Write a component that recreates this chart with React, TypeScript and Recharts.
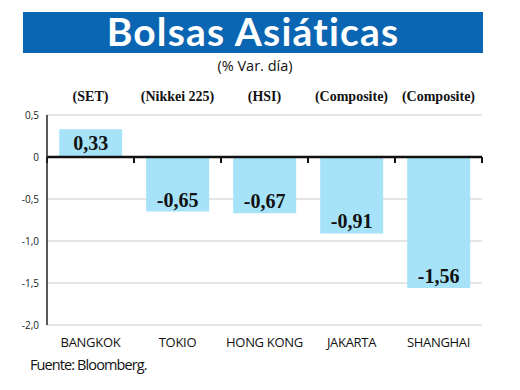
import React from "react";
import {
  BarChart,
  Bar,
  XAxis,
  YAxis,
  CartesianGrid,
  ReferenceLine,
  LabelList,
} from "recharts";

const ciudades = ["BANGKOK", "TOKIO", "HONG KONG", "JAKARTA", "SHANGHAI"];
const indices = ["(SET)", "(Nikkei 225)", "(HSI)", "(Composite)", "(Composite)"];
const variacion = [0.33, -0.65, -0.67, -0.91, -1.56];
const yTicks = [-2, -1.5, -1, -0.5, 0, 0.5];

const data = ciudades.map((c, i) => ({
  ciudad: c,
  indice: indices[i],
  valor: variacion[i],
}));

const BAR_COLOR = "#a6e3f8";

const fmtTick = (v: number) => {
  if (v === 0) return "0";
  return v.toFixed(1).replace(".", ",");
};

const fmtValue = (v: number) => v.toFixed(2).replace(".", ",");

const ValueLabel = (props: any) => {
  const { x, y, width, height, value } = props;
  const top = Math.min(y, y + height);
  const h = Math.abs(height);
  const cx = x + width / 2;
  // positive: centered in bar; negative: near the bottom end
  const ty = value >= 0 ? top + h / 2 + 7 : top + h - 5;
  return (
    <text
      x={cx}
      y={ty}
      textAnchor="middle"
      fontFamily="'Liberation Serif', serif"
      fontWeight="bold"
      fontSize={20}
      fill="#111"
    >
      {fmtValue(value)}
    </text>
  );
};

const ZeroLine = (props: any) => {
  const { x1, x2, y1 } = props;
  const n = ciudades.length;
  const step = (x2 - x1) / n;
  const marks = [];
  for (let i = 0; i <= n; i++) {
    const mx = x1 + step * i;
    marks.push(
      <line key={i} x1={mx} x2={mx} y1={y1} y2={y1 + 6} stroke="#111" strokeWidth={2} />
    );
  }
  return (
    <g>
      <line x1={x1} x2={x2} y1={y1} y2={y1} stroke="#111" strokeWidth={2.5} />
      {marks}
    </g>
  );
};

export default function App() {
  return (
    <div
      style={{
        position: "absolute",
        left: 0,
        top: 0,
        width: 520,
        height: 390,
        background: "#fff",
        overflow: "hidden",
      }}
    >
      <div
        style={{
          position: "absolute",
          left: 23,
          top: 12,
          width: 460,
          height: 41,
          background: "#0a66b2",
        }}
      />
      <div
        style={{
          position: "absolute",
          left: 23,
          top: 8,
          width: 460,
          color: "#fff",
          fontFamily: "Lato, sans-serif",
          fontWeight: "bold",
          fontSize: 39,
          lineHeight: "normal",
          textAlign: "center",
          letterSpacing: 1.2,
        }}
      >
        Bolsas Asiáticas
      </div>
      <div
        style={{
          position: "absolute",
          left: 0,
          top: 56,
          width: 510,
          textAlign: "center",
          fontFamily: "'Open Sans', sans-serif",
          fontSize: 14.5,
          lineHeight: "normal",
          color: "#111",
        }}
      >
        (% Var. día)
      </div>
      <div style={{ position: "absolute", left: 0, top: 0 }}>
        <BarChart
          width={520}
          height={390}
          data={data}
          margin={{ top: 83, right: 38, left: 0, bottom: 35 }}
          barCategoryGap="14%"
        >
          <CartesianGrid vertical={false} stroke="#dcdcdc" strokeWidth={1.5} />
          <XAxis
            xAxisId="top"
            dataKey="indice"
            orientation="top"
            height={32}
            axisLine={false}
            tickLine={false}
            interval={0}
            dy={-6}
            tick={{
              fill: "#111",
              fontSize: 14,
              fontWeight: "bold",
              fontFamily: "'Liberation Serif', serif",
            }}
          />
          <XAxis
            dataKey="ciudad"
            height={30}
            axisLine={false}
            tickLine={false}
            interval={0}
            dy={5}
            tick={{
              fill: "#111",
              fontSize: 13,
              fontFamily: "'Open Sans', sans-serif",
              letterSpacing: -0.3,
            }}
          />
          <YAxis
            width={47}
            domain={[-2, 0.5]}
            ticks={yTicks}
            tickFormatter={fmtTick}
            axisLine={{ stroke: "#222", strokeWidth: 1.5 }}
            tickLine={false}
            tick={{ fill: "#222", fontSize: 10, fontFamily: "'Open Sans', sans-serif" }}
          />
          <Bar dataKey="valor" fill={BAR_COLOR} isAnimationActive={false}>
            <LabelList dataKey="valor" content={<ValueLabel />} />
          </Bar>
          <ReferenceLine y={0} shape={<ZeroLine />} />
        </BarChart>
      </div>
      <div
        style={{
          position: "absolute",
          left: 30,
          top: 355,
          fontFamily: "'Open Sans', sans-serif",
          fontSize: 14.5,
          letterSpacing: -0.9,
          color: "#111",
        }}
      >
        Fuente: Bloomberg.
      </div>
    </div>
  );
}
